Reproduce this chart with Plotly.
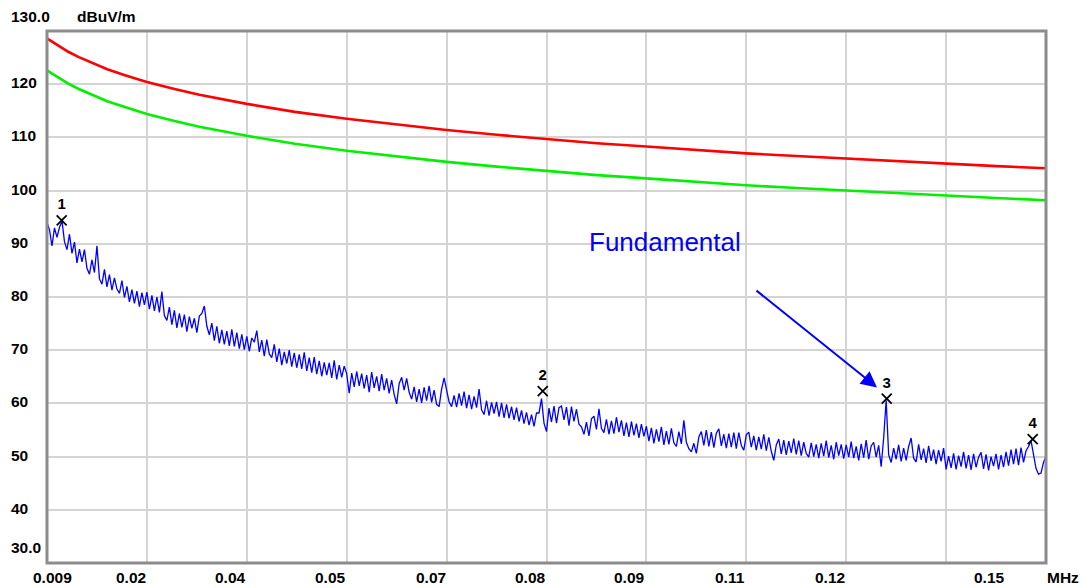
import numpy as np
import plotly.graph_objects as go

# ---------------- data ----------------
sweep_start_mhz = 0.009
sweep_stop_mhz = 0.15

# measured trace (dBuV/m), equally spaced sweep points from start to stop
trace_levels = [
    94.0, 92.6, 89.6, 93.0, 91.2, 93.1, 94.3, 90.4, 88.9, 91.8, 88.2, 90.3, 86.4, 89.0, 86.6, 88.9, 85.4, 84.3, 87.0, 84.6,
    89.6, 83.4, 82.4, 85.2, 81.9, 84.2, 81.3, 83.6, 81.5, 80.7, 83.1, 79.9, 82.0, 79.1, 81.4, 78.8, 81.1, 78.2, 80.8, 78.5,
    80.9, 77.7, 80.3, 77.4, 80.0, 77.1, 81.0, 76.5, 75.6, 78.1, 74.8, 77.5, 74.2, 76.9, 74.3, 76.7, 73.5, 76.3, 74.1, 76.0,
    73.3, 76.4, 76.9, 78.3, 74.5, 72.9, 75.1, 71.8, 74.5, 71.3, 73.8, 71.1, 73.6, 70.8, 73.9, 70.7, 73.3, 70.3, 73.0, 70.1,
    72.6, 69.8, 72.3, 71.5, 73.7, 69.7, 71.9, 68.9, 72.0, 69.3, 68.6, 71.1, 67.8, 70.3, 67.2, 69.7, 67.5, 70.0, 66.9, 69.5,
    66.7, 69.2, 66.5, 69.6, 66.1, 68.6, 65.8, 68.7, 65.5, 68.0, 65.1, 67.7, 65.3, 67.6, 64.8, 68.1, 64.5, 67.2, 64.9, 67.0,
    65.6, 61.9, 65.7, 63.1, 66.0, 63.3, 65.6, 62.8, 65.3, 62.1, 65.9, 62.9, 65.1, 62.3, 65.5, 62.5, 64.7, 61.9, 64.4, 61.7,
    59.9, 63.7, 64.9, 62.5, 64.7, 62.1, 60.8, 63.1, 60.3, 62.7, 60.1, 63.0, 60.5, 63.3, 60.2, 62.5, 59.8, 59.4, 62.7, 64.8,
    62.5, 60.3, 59.4, 61.5, 59.3, 61.9, 59.6, 62.2, 59.1, 61.6, 58.9, 61.3, 59.2, 62.7, 58.8, 57.9, 60.5, 57.7, 60.2, 58.1,
    60.3, 57.5, 60.1, 57.3, 59.8, 57.2, 59.4, 56.9, 59.2, 56.6, 58.7, 56.2, 58.3, 55.9, 57.9, 55.7, 58.2, 58.2, 60.9, 56.3,
    54.7, 59.1, 56.5, 59.5, 56.3, 59.2, 59.5, 56.9, 59.3, 55.8, 59.4, 56.6, 58.9, 56.1, 55.6, 54.2, 56.5, 53.9, 57.1, 57.6,
    55.1, 59.0, 55.3, 54.5, 57.0, 54.2, 56.7, 54.3, 57.4, 54.6, 56.8, 53.9, 56.4, 53.7, 56.6, 54.0, 56.2, 53.5, 56.1, 53.8,
    55.7, 52.9, 55.4, 52.5, 55.1, 52.8, 55.6, 52.2, 54.8, 52.3, 55.3, 52.6, 51.9, 54.7, 52.4, 56.8, 52.7, 51.5, 50.9, 52.5,
    50.6, 53.7, 54.7, 52.1, 55.0, 51.9, 54.6, 51.7, 54.4, 55.2, 52.0, 54.2, 51.6, 54.3, 51.8, 54.5, 51.5, 54.5, 52.1, 51.2,
    54.1, 54.6, 51.8, 53.9, 51.2, 53.7, 51.4, 54.2, 51.1, 53.6, 51.0, 49.3, 52.2, 53.3, 50.5, 53.1, 50.3, 52.9, 50.7, 53.4,
    50.4, 53.0, 50.2, 52.7, 50.6, 49.9, 52.6, 50.0, 52.3, 49.7, 52.5, 50.1, 53.0, 49.8, 52.1, 49.5, 52.7, 50.2, 52.3, 49.6,
    52.2, 49.9, 52.8, 49.7, 51.9, 49.3, 52.4, 49.8, 53.1, 49.5, 52.0, 52.7, 49.9, 52.1, 48.1, 53.5, 60.6, 50.3, 48.9, 51.6,
    49.5, 52.2, 49.1, 51.6, 49.3, 51.9, 53.5, 49.7, 49.0, 52.3, 49.4, 51.5, 48.8, 52.0, 49.2, 51.3, 48.6, 51.2, 49.1, 51.6,
    47.6, 50.1, 47.9, 50.6, 47.6, 50.2, 48.1, 50.9, 47.8, 50.3, 47.5, 50.5, 48.0, 49.9, 50.8, 47.7, 50.4, 47.4, 50.0, 48.2,
    50.5, 47.6, 50.3, 48.0, 50.9, 48.3, 51.3, 48.6, 51.5, 48.4, 51.7, 48.9, 51.1, 51.9, 53.0, 50.5, 47.8, 46.7, 46.9, 48.9,
    50.0,
]

# limit lines (dBuV/m)
limit_freq = [0.009, 0.0105, 0.012, 0.0135, 0.015, 0.0175, 0.02, 0.0231, 0.027, 0.0305, 0.0372, 0.044,
              0.0513, 0.0584, 0.0654, 0.0725, 0.0795, 0.0866, 0.0936, 0.1007, 0.1077, 0.1148, 0.1218,
              0.1289, 0.1359, 0.143, 0.15]
limit_red = [128.6, 127.3, 126.1, 125.1, 124.2, 122.8, 121.7, 120.4, 119.1, 118.0, 116.3, 114.8,
             113.5, 112.4, 111.4, 110.5, 109.7, 108.9, 108.3, 107.6, 107.0, 106.5, 106.0,
             105.5, 105.0, 104.6, 104.2]
limit_green = [122.6, 121.3, 120.1, 119.1, 118.2, 116.8, 115.7, 114.4, 113.1, 112.0, 110.3, 108.8,
               107.5, 106.4, 105.4, 104.5, 103.7, 102.9, 102.3, 101.6, 101.0, 100.5, 100.0,
               99.5, 99.0, 98.6, 98.2]

# peak markers
marker_ids = ["1", "2", "3", "4"]
marker_freq = [0.01107, 0.07897, 0.12752, 0.14812]
marker_level = [94.4, 62.3, 60.9, 53.3]

# axis labels
y_tick_values = [130, 120, 110, 100, 90, 80, 70, 60, 50, 40, 30]
y_tick_labels = ["130.0", "120", "110", "100", "90", "80", "70", "60", "50", "40", "30.0"]
x_tick_labels = ["0.009", "0.02", "0.04", "0.05", "0.07", "0.08", "0.09", "0.11", "0.12", "", "0.15"]
y_unit = "dBuV/m"
x_unit = "MHz"

annot_text = "Fundamental"
annot_text_pos = (0.09623, 90.3)
annot_arrow_tip = (0.12615, 63.0)

# ---------------- figure ----------------
n_div = 10
grid_freq = [sweep_start_mhz + k * (sweep_stop_mhz - sweep_start_mhz) / n_div for k in range(n_div + 1)]
trace_freq = np.linspace(sweep_start_mhz, sweep_stop_mhz, len(trace_levels))

fig = go.Figure()
fig.add_trace(go.Scatter(x=trace_freq, y=trace_levels, mode="lines",
                         line=dict(color="#0000ff", width=1.3), hoverinfo="skip"))
fig.add_trace(go.Scatter(x=limit_freq, y=limit_red, mode="lines",
                         line=dict(color="#ff0000", width=2.6), hoverinfo="skip"))
fig.add_trace(go.Scatter(x=limit_freq, y=limit_green, mode="lines",
                         line=dict(color="#00f000", width=2.6), hoverinfo="skip"))
fig.add_trace(go.Scatter(x=marker_freq, y=marker_level, mode="markers+text",
                         text=["<b>%s</b>" % m for m in marker_ids], textposition="top center",
                         textfont=dict(family="Liberation Sans, Arial", size=15, color="black"),
                         marker=dict(symbol="x-thin", size=10, line=dict(color="black", width=1.8)),
                         cliponaxis=False, hoverinfo="skip"))

font_lab = dict(family="Liberation Sans, Arial", size=15.5, color="black")
annotations = []
for v, t in zip(y_tick_values, y_tick_labels):
    shift = 1.5
    if t == "130.0":
        shift = 14.5
    elif t == "30.0":
        shift = 15.5
    annotations.append(dict(x=0, xref="paper", xshift=-38, xanchor="left",
                            y=v, yref="y", yshift=shift, yanchor="middle",
                            text="<b>%s</b>" % t, showarrow=False, font=font_lab))
annotations.append(dict(x=0, xref="paper", xshift=28, xanchor="left",
                        y=130, yref="y", yshift=14.5, yanchor="middle",
                        text="<b>%s</b>" % y_unit, showarrow=False, font=font_lab))
for k, t in enumerate(x_tick_labels):
    if not t:
        continue
    if k == 0:
        a = dict(xanchor="left", xshift=-16)
    elif k == n_div:
        a = dict(xanchor="right", xshift=-39)
    else:
        a = dict(xanchor="right", xshift=1)
    annotations.append(dict(x=grid_freq[k], xref="x", y=0, yref="paper", yshift=-14,
                            yanchor="middle", text="<b>%s</b>" % t, showarrow=False,
                            font=font_lab, **a))
annotations.append(dict(x=grid_freq[-1], xref="x", y=0, yref="paper", yshift=-14, xshift=-1,
                        xanchor="left", yanchor="middle", text="<b>%s</b>" % x_unit,
                        showarrow=False, font=font_lab))
annotations.append(dict(x=annot_text_pos[0], y=annot_text_pos[1], xref="x", yref="y",
                        text=annot_text, showarrow=False,
                        font=dict(family="Liberation Sans, Arial", size=26, color="#0000ff")))
annotations.append(dict(x=annot_arrow_tip[0], y=annot_arrow_tip[1], xref="x", yref="y",
                        text="", showarrow=True, ax=-122, ay=-98,
                        arrowhead=2, arrowsize=1.6, arrowwidth=2, arrowcolor="#0000ff",
                        standoff=0, startstandoff=0))

fig.update_layout(
    width=1083, height=588,
    margin=dict(l=47, r=37, t=31, b=25),
    paper_bgcolor="white", plot_bgcolor="white",
    showlegend=False,
    annotations=annotations,
    shapes=[dict(type="rect", xref="paper", yref="paper", x0=0, y0=0, x1=1, y1=1,
                 line=dict(color="#8c8c8c", width=3), layer="above")],
    xaxis=dict(range=[sweep_start_mhz, sweep_stop_mhz], tickvals=grid_freq[1:-1],
               showticklabels=False, ticks="", showgrid=True, gridcolor="#d4d4d4",
               gridwidth=1.6, zeroline=False, showline=False, fixedrange=True),
    yaxis=dict(range=[30, 130], tickvals=y_tick_values[1:-1], showticklabels=False,
               ticks="", showgrid=True, gridcolor="#d4d4d4", gridwidth=1.6,
               zeroline=False, showline=False, fixedrange=True),
)

fig.write_html("out.html", config={"displayModeBar": False})
